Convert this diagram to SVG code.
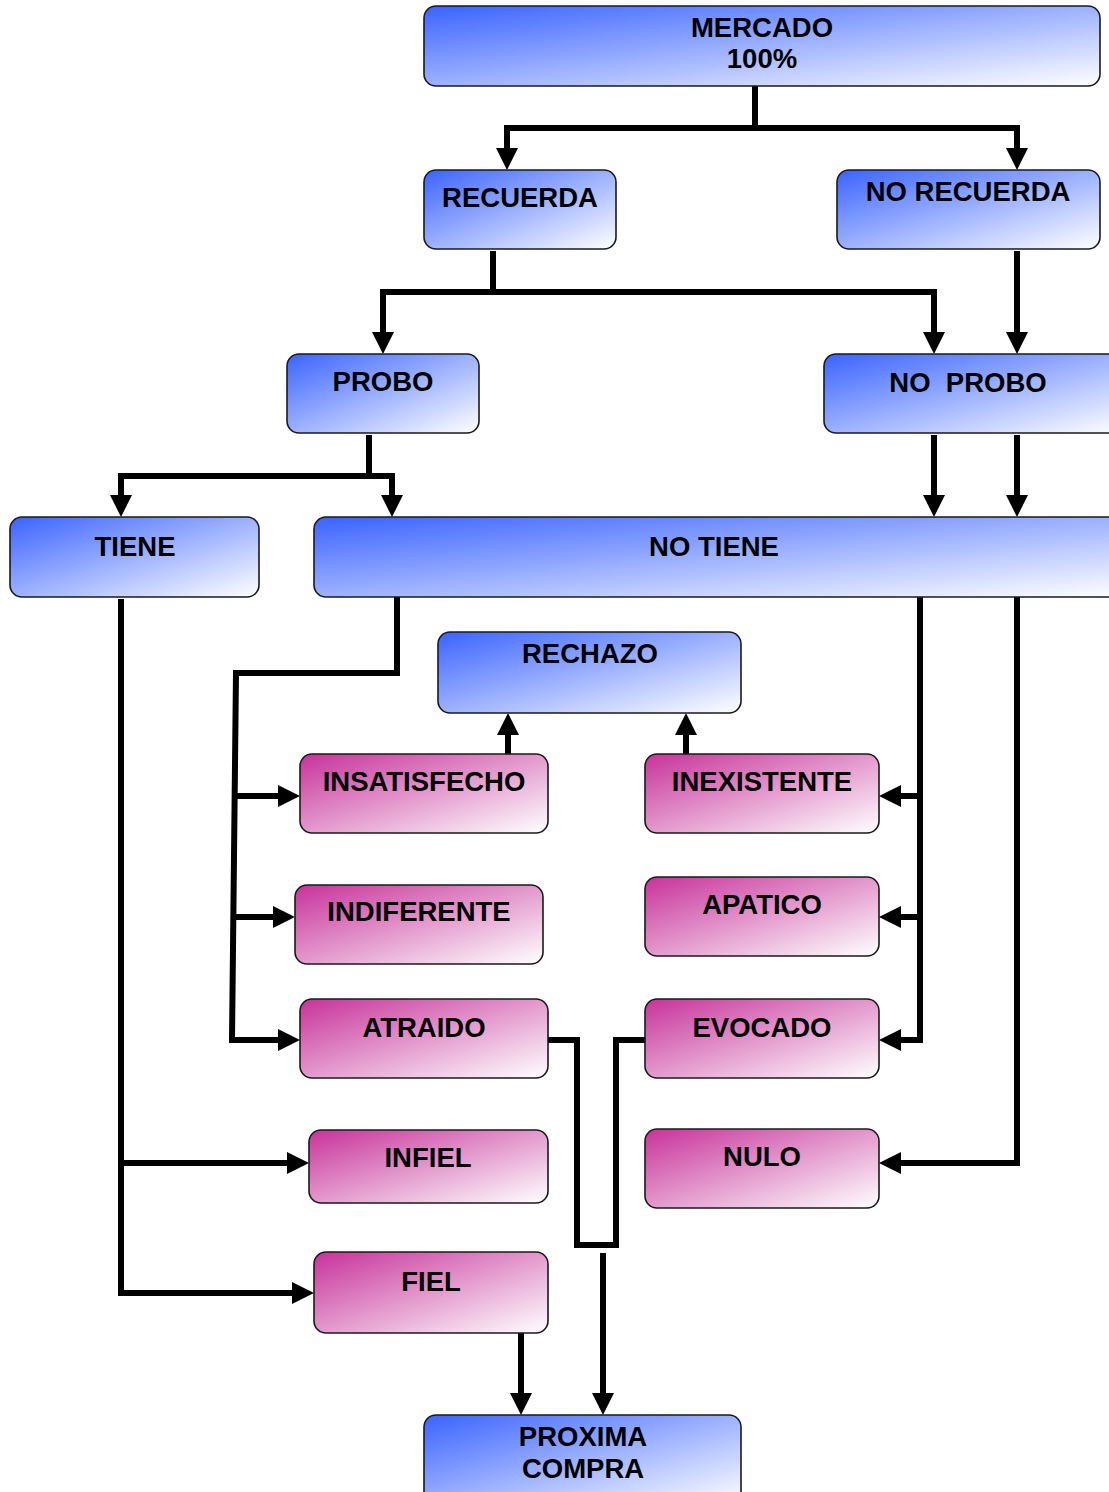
<svg xmlns="http://www.w3.org/2000/svg" width="1109" height="1492" viewBox="0 0 1109 1492">
  <defs>
    <linearGradient id="gBlue" x1="0" y1="0" x2="1" y2="1">
      <stop offset="0" stop-color="#3a63ff"/>
      <stop offset="1" stop-color="#ffffff"/>
    </linearGradient>
    <linearGradient id="gPink" x1="0" y1="0" x2="1" y2="1">
      <stop offset="0" stop-color="#c8329a"/>
      <stop offset="1" stop-color="#ffffff"/>
    </linearGradient>
    <marker id="arr" markerUnits="userSpaceOnUse" markerWidth="24" markerHeight="24" refX="12" refY="11" orient="auto">
      <path d="M0,0 L22,11 L0,22 Z" fill="#000"/>
    </marker>
  </defs>
  <style>
    .b rect { fill: url(#gBlue); stroke: #1a1a1a; stroke-width: 1.6; }
    .p rect { fill: url(#gPink); stroke: #1a1a1a; stroke-width: 1.6; }
    text { font-family: "Liberation Sans", Arial, sans-serif; font-weight: bold; font-size: 27.5px; fill: #000; text-anchor: middle; }
    .c path { fill: none; stroke: #000; stroke-width: 6; stroke-linejoin: miter; }
    .c path.a { marker-end: url(#arr); }
  </style>

  <!-- connectors -->
  <g id="connectors" class="c">
    <path d="M755,86 V128"/>
    <path d="M755,128 H507 V160" class="a"/>
    <path d="M755,128 H1017 V160" class="a"/>
    <path d="M493,251 V292"/>
    <path d="M493,292 H383 V344" class="a"/>
    <path d="M493,292 H934 V344" class="a"/>
    <path d="M1017,251 V344" class="a"/>
    <path d="M369,435 V476"/>
    <path d="M369,476 H121 V507" class="a"/>
    <path d="M369,476 H392 V507" class="a"/>
    <path d="M934,435 V507" class="a"/>
    <path d="M1017,435 V507" class="a"/>
    <path d="M397,597 V673 H236 L232,1040 H290" class="a"/>
    <path d="M235,796 H290" class="a"/>
    <path d="M234,917 H285" class="a"/>
    <path d="M508,754 V723" class="a"/>
    <path d="M686,754 V723" class="a"/>
    <path d="M920,597 V1040 H889" class="a"/>
    <path d="M920,796 H889" class="a"/>
    <path d="M920,917 H889" class="a"/>
    <path d="M1017,597 V1163 H889" class="a"/>
    <path d="M121,599 V1293 H304" class="a"/>
    <path d="M121,1163 H299" class="a"/>
    <path d="M548,1040 H577 V1245 H616 V1040 H645"/>
    <path d="M603,1253 V1405" class="a"/>
    <path d="M521,1333 V1405" class="a"/>
  </g>

  <g id="mercado" class="b">
    <rect x="424" y="6" width="676" height="80" rx="12"/>
    <text x="762" y="37">MERCADO</text>
    <text x="762" y="68">100%</text>
  </g>
  <g id="recuerda" class="b">
    <rect x="424" y="170" width="192" height="79" rx="12"/>
    <text x="520" y="207">RECUERDA</text>
  </g>
  <g id="no-recuerda" class="b">
    <rect x="837" y="170" width="263" height="79" rx="12"/>
    <text x="968" y="201">NO RECUERDA</text>
  </g>
  <g id="probo" class="b">
    <rect x="287" y="354" width="192" height="79" rx="12"/>
    <text x="383" y="391">PROBO</text>
  </g>
  <g id="no-probo" class="b">
    <rect x="824" y="354" width="300" height="79" rx="12"/>
    <text x="968" y="392" xml:space="preserve">NO  PROBO</text>
  </g>
  <g id="tiene" class="b">
    <rect x="10" y="517" width="249" height="80" rx="12"/>
    <text x="135" y="556">TIENE</text>
  </g>
  <g id="no-tiene" class="b">
    <rect x="314" y="517" width="810" height="80" rx="12"/>
    <text x="714" y="556">NO TIENE</text>
  </g>
  <g id="rechazo" class="b">
    <rect x="438" y="632" width="303" height="81" rx="12"/>
    <text x="590" y="663">RECHAZO</text>
  </g>
  <g id="insatisfecho" class="p">
    <rect x="300" y="754" width="248" height="79" rx="12"/>
    <text x="424" y="791">INSATISFECHO</text>
  </g>
  <g id="inexistente" class="p">
    <rect x="645" y="754" width="234" height="79" rx="12"/>
    <text x="762" y="791">INEXISTENTE</text>
  </g>
  <g id="indiferente" class="p">
    <rect x="295" y="885" width="248" height="79" rx="12"/>
    <text x="419" y="921">INDIFERENTE</text>
  </g>
  <g id="apatico" class="p">
    <rect x="645" y="877" width="234" height="79" rx="12"/>
    <text x="762" y="914">APATICO</text>
  </g>
  <g id="atraido" class="p">
    <rect x="300" y="999" width="248" height="79" rx="12"/>
    <text x="424" y="1037">ATRAIDO</text>
  </g>
  <g id="evocado" class="p">
    <rect x="645" y="999" width="234" height="79" rx="12"/>
    <text x="762" y="1037">EVOCADO</text>
  </g>
  <g id="infiel" class="p">
    <rect x="309" y="1130" width="239" height="73" rx="12"/>
    <text x="428" y="1167">INFIEL</text>
  </g>
  <g id="nulo" class="p">
    <rect x="645" y="1129" width="234" height="79" rx="12"/>
    <text x="762" y="1166">NULO</text>
  </g>
  <g id="fiel" class="p">
    <rect x="314" y="1252" width="234" height="81" rx="12"/>
    <text x="431" y="1291">FIEL</text>
  </g>
  <g id="proxima-compra" class="b">
    <rect x="424" y="1415" width="317" height="90" rx="12"/>
    <text x="583" y="1446">PROXIMA</text>
    <text x="583" y="1478">COMPRA</text>
  </g>
</svg>
